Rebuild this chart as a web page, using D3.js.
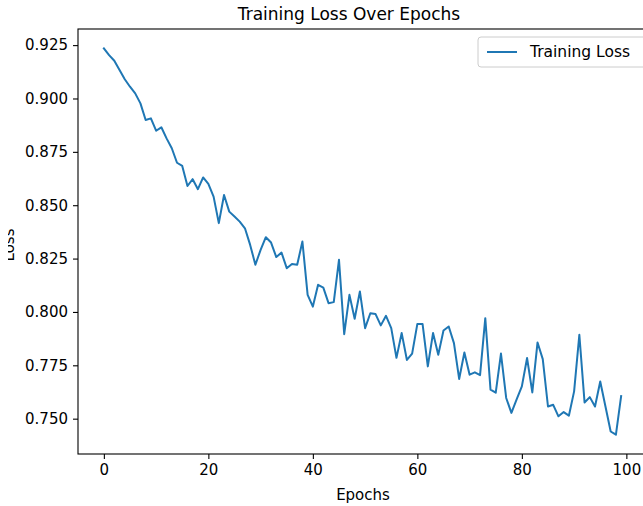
<!DOCTYPE html>
<html>
<head>
<meta charset="utf-8">
<script src="https://cdn.jsdelivr.net/npm/d3@7"></script>
<style>
  body { margin: 0; background: #fff; }
  text { font-family: "DejaVu Sans", sans-serif; fill: #000; }
</style>
</head>
<body>
<svg id="chart"></svg>
<script>
// Training loss per epoch
const epochs = d3.range(0, 100);
const trainingLoss = [
  0.9235, 0.9203, 0.9177, 0.9133, 0.9090, 0.9055, 0.9024, 0.8977, 0.8899, 0.8907,
  0.8849, 0.8865, 0.8813, 0.8767, 0.8699, 0.8684, 0.8590, 0.8622, 0.8575, 0.8630,
  0.8600, 0.8540, 0.8416, 0.8548, 0.8470, 0.8447, 0.8423, 0.8392, 0.8314, 0.8221,
  0.8291, 0.8350, 0.8325, 0.8257, 0.8278, 0.8205, 0.8225, 0.8221, 0.8330, 0.8080,
  0.8025, 0.8127, 0.8114, 0.8041, 0.8046, 0.8244, 0.7896, 0.8080, 0.7968, 0.8096,
  0.7924, 0.7994, 0.7990, 0.7937, 0.7982, 0.7924, 0.7785, 0.7901, 0.7775, 0.7805,
  0.7944, 0.7943, 0.7745, 0.7901, 0.7799, 0.7913, 0.7932, 0.7854, 0.7686, 0.7810,
  0.7706, 0.7717, 0.7704, 0.7971, 0.7636, 0.7622, 0.7805, 0.7597, 0.7527, 0.7590,
  0.7651, 0.7784, 0.7623, 0.7857, 0.7779, 0.7557, 0.7565, 0.7511, 0.7531, 0.7514,
  0.7628, 0.7893, 0.7576, 0.7601, 0.7557, 0.7674, 0.7557, 0.7440, 0.7425, 0.7606
];
const xTicks = [0, 20, 40, 60, 80, 100];
const yTicks = [0.750, 0.775, 0.800, 0.825, 0.850, 0.875, 0.900, 0.925];

const data = epochs.map((e, i) => ({epoch: e, loss: trainingLoss[i]}));

//Overall size of the picture and where the axes box sits inside it
const W = 643, H = 506;
const margin = {left: 78, right: -4, top: 29, bottom: 52};
const width = W - margin.left - margin.right;
const height = H - margin.top - margin.bottom;

const svg = d3.select("#chart")
    .attr("width", W)
    .attr("height", H);

const g = svg.append("g")
    .attr("transform", "translate(" + margin.left + "," + margin.top + ")");

//matplotlib style 5% padding round the data
const xExt = d3.extent(epochs);
const xPad = (xExt[1] - xExt[0]) * 0.05;
const yExt = d3.extent(trainingLoss);
const yPad = (yExt[1] - yExt[0]) * 0.05;

const xScale = d3.scaleLinear()
    .domain([xExt[0] - xPad, xExt[1] + xPad])
    .range([0, width]);
const yScale = d3.scaleLinear()
    .domain([yExt[0] - yPad, yExt[1] + yPad])
    .range([height, 0]);

//Axes
const xAxis = g.append("g")
    .attr("transform", "translate(0," + height + ")")
    .call(d3.axisBottom(xScale).tickValues(xTicks).tickSize(5).tickPadding(5).tickSizeOuter(0));
const yAxis = g.append("g")
    .call(d3.axisLeft(yScale).tickValues(yTicks).tickFormat(d3.format(".3f")).tickSize(5).tickPadding(5).tickSizeOuter(0));

[xAxis, yAxis].forEach(a => {
    a.selectAll("text").style("font-size", "15px").attr("fill", "#111");
    a.selectAll("line").attr("stroke", "#000").attr("stroke-width", 1.1);
    a.select(".domain").remove();
});

//Axes box (spines)
g.append("rect")
    .attr("x", 0)
    .attr("y", 0)
    .attr("width", width)
    .attr("height", height)
    .attr("fill", "none")
    .attr("stroke", "#000")
    .attr("stroke-width", 1.1);

//The loss line
const line = d3.line()
    .x(d => xScale(d.epoch))
    .y(d => yScale(d.loss));

g.append("path")
    .datum(data)
    .attr("fill", "none")
    .attr("stroke", "#1f77b4")
    .attr("stroke-width", 2)
    .attr("stroke-linejoin", "round")
    .attr("stroke-linecap", "square")
    .attr("d", line);

//Title and axis labels
svg.append("text")
    .attr("x", 349)
    .attr("y", 20)
    .attr("text-anchor", "middle")
    .style("font-size", "17px")
    .text("Training Loss Over Epochs");

svg.append("text")
    .attr("x", 363)
    .attr("y", 500)
    .attr("text-anchor", "middle")
    .style("font-size", "15px")
    .text("Epochs");

//The y label is cut off at the left edge of the picture
svg.append("clipPath")
    .attr("id", "ylabClip")
    .append("rect")
    .attr("x", 8).attr("y", 0).attr("width", 40).attr("height", H);

svg.append("g")
    .attr("clip-path", "url(#ylabClip)")
    .append("text")
    .attr("transform", "translate(14,245) rotate(-90)")
    .attr("text-anchor", "middle")
    .style("font-size", "15px")
    .text("Loss");

//Legend
const legend = svg.append("g")
    .attr("transform", "translate(478,37)");

legend.append("rect")
    .attr("width", 170)
    .attr("height", 30)
    .attr("rx", 3)
    .attr("fill", "#fff")
    .attr("fill-opacity", 0.8)
    .attr("stroke", "#ccc");

legend.append("line")
    .attr("x1", 9).attr("x2", 39)
    .attr("y1", 15).attr("y2", 15)
    .attr("stroke", "#1f77b4")
    .attr("stroke-width", 2);

legend.append("text")
    .attr("x", 52)
    .attr("y", 20)
    .style("font-size", "15.5px")
    .text("Training Loss");
</script>
</body>
</html>
